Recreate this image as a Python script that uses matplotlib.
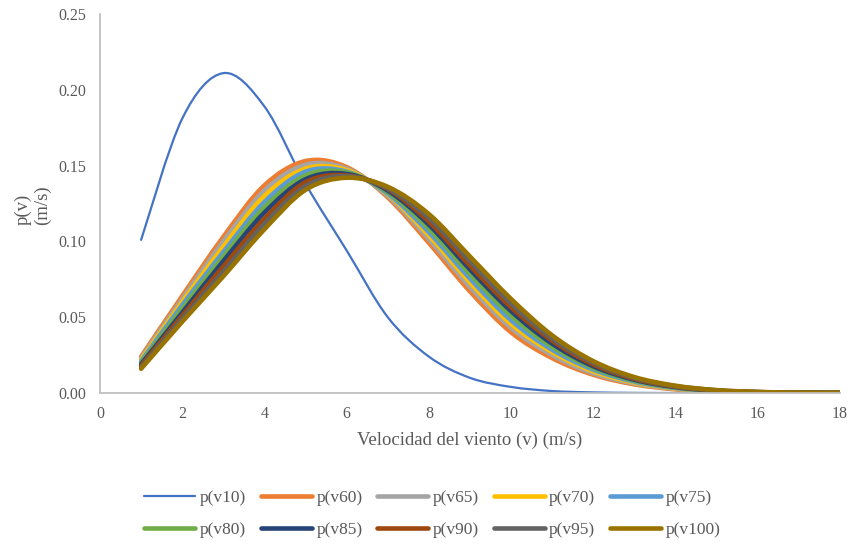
import numpy as np
import matplotlib
matplotlib.use('Agg')
from matplotlib import pyplot as plt
from matplotlib.path import Path
from matplotlib.patches import PathPatch
from matplotlib.lines import Line2D

# velocidad del viento (m/s)
v = [1, 2, 3, 4, 5, 6, 7, 8, 9, 10, 11, 12, 13, 14, 15, 16, 17, 18]

# densidad de probabilidad
p_v10 = [0.101, 0.181, 0.211, 0.189, 0.138, 0.094, 0.050, 0.024, 0.010, 0.004,
         0.0013, 0.0004, 0.0001, 0.0, 0.0, 0.0, 0.0, 0.0]
p_v60 = [0.024, 0.064, 0.103, 0.137, 0.153, 0.149, 0.129, 0.099, 0.067, 0.040,
         0.023, 0.012, 0.0057, 0.0024, 0.0009, 0.0003, 0.0001, 0.0]
p_v65 = [0.023, 0.062, 0.100, 0.1335, 0.1505, 0.148, 0.130, 0.1015, 0.070, 0.043,
         0.025, 0.013, 0.0063, 0.0027, 0.0010, 0.0003, 0.0001, 0.0]
p_v70 = [0.022, 0.060, 0.0965, 0.130, 0.148, 0.147, 0.131, 0.104, 0.073, 0.0455,
         0.027, 0.0143, 0.0069, 0.0030, 0.0012, 0.0004, 0.0001, 0.0]
p_v75 = [0.021, 0.058, 0.093, 0.126, 0.146, 0.146, 0.1315, 0.106, 0.0755, 0.048,
         0.0285, 0.0154, 0.0075, 0.0033, 0.0013, 0.0004, 0.0001, 0.0]
p_v80 = [0.020, 0.0555, 0.090, 0.1225, 0.1435, 0.1455, 0.1325, 0.1085, 0.0785, 0.051,
         0.0305, 0.0165, 0.0081, 0.0036, 0.0014, 0.0005, 0.0002, 0.0]
p_v85 = [0.019, 0.053, 0.087, 0.119, 0.141, 0.1445, 0.1335, 0.111, 0.0815, 0.054,
         0.0325, 0.0176, 0.0087, 0.0039, 0.0015, 0.0005, 0.0002, 0.0001]
p_v90 = [0.018, 0.051, 0.0835, 0.115, 0.139, 0.1435, 0.1345, 0.113, 0.084, 0.0565,
         0.0345, 0.0188, 0.0093, 0.0042, 0.0016, 0.0006, 0.0002, 0.0001]
p_v95 = [0.017, 0.049, 0.080, 0.1115, 0.1365, 0.143, 0.135, 0.1155, 0.087, 0.059,
         0.036, 0.020, 0.0099, 0.0045, 0.0018, 0.0006, 0.0002, 0.0001]
p_v100 = [0.016, 0.047, 0.077, 0.108, 0.134, 0.142, 0.136, 0.118, 0.090, 0.062,
          0.038, 0.021, 0.0105, 0.0048, 0.0019, 0.0007, 0.0002, 0.0001]

series = [p_v10, p_v60, p_v65, p_v70, p_v75, p_v80, p_v85, p_v90, p_v95, p_v100]
labels = ['p(v10)', 'p(v60)', 'p(v65)', 'p(v70)', 'p(v75)',
          'p(v80)', 'p(v85)', 'p(v90)', 'p(v95)', 'p(v100)']
colors = ['#4472C4', '#ED7D31', '#A5A5A5', '#FFC000', '#5B9BD5',
          '#70AD47', '#264478', '#9E480E', '#636363', '#997300']
widths = [1.6] + [3.3] * 9

plt.rcParams['font.family'] = ['Liberation Serif', 'DejaVu Serif']
txt = '#595959'


def smooth_path(x, y):
    # linea suavizada tipo Excel: bezier cubico que pasa por los puntos
    x = np.asarray(x, float)
    y = np.asarray(y, float)
    pts = np.column_stack([x, y])
    n = len(pts)
    verts = [pts[0]]
    codes = [Path.MOVETO]
    for i in range(n - 1):
        p0 = pts[i - 1] if i > 0 else pts[i]
        p1 = pts[i]
        p2 = pts[i + 1]
        p3 = pts[i + 2] if i + 2 < n else pts[i + 1]
        c1 = p1 + (p2 - p0) / 6.0
        c2 = p2 - (p3 - p1) / 6.0
        verts += [c1, c2, p2]
        codes += [Path.CURVE4] * 3
    return Path(verts, codes)


fig = plt.figure(figsize=(8.51, 5.45), dpi=100)
ax = fig.add_axes([100 / 851, 1 - 393 / 545, 740 / 851, 379 / 545])

for vals, c, lw in zip(series, colors, widths):
    patch = PathPatch(smooth_path(v, vals), fill=False, edgecolor=c, lw=lw,
                      capstyle='round', joinstyle='round')
    ax.add_patch(patch)

ax.set_xlim(0, 18)
ax.set_ylim(0, 0.25)
ax.set_xticks(np.arange(0, 19, 2))
ax.set_yticks(np.arange(0, 0.26, 0.05))
ax.set_yticklabels(['%.2f' % t for t in np.arange(0, 0.26, 0.05)])
ax.tick_params(axis='both', length=0, labelsize=11.5, labelcolor=txt)
ax.tick_params(axis='y', pad=10)
ax.tick_params(axis='x', pad=9)

for s in ['top', 'right']:
    ax.spines[s].set_visible(False)
for s in ['left', 'bottom']:
    ax.spines[s].set_color('#BFBFBF')
    ax.spines[s].set_linewidth(1.3)

fig.text(470 / 851, 1 - 440 / 545, 'Velocidad del viento (v) (m/s)',
         ha='center', va='center', fontsize=13.5, color=txt)
fig.text(33 / 851, 1 - 205 / 545, 'p(v)\n(m/s)', rotation=90,
         ha='center', va='center', multialignment='left',
         fontsize=13.5, color=txt, linespacing=1.15)

# leyenda en filas (matplotlib llena por columnas)
order = [0, 5, 1, 6, 2, 7, 3, 8, 4, 9]
handles = [Line2D([0], [0], color=colors[i], lw=widths[i], solid_capstyle='round')
           for i in order]
fig.legend(handles, [labels[i] for i in order], ncol=5, loc='center',
           bbox_to_anchor=(0.508, 1 - 514 / 545), frameon=False,
           fontsize=12.5, labelcolor=txt, handlelength=2.95, handletextpad=0.25,
           columnspacing=0.85, labelspacing=0.95)

plt.savefig('out.png', dpi=100)
